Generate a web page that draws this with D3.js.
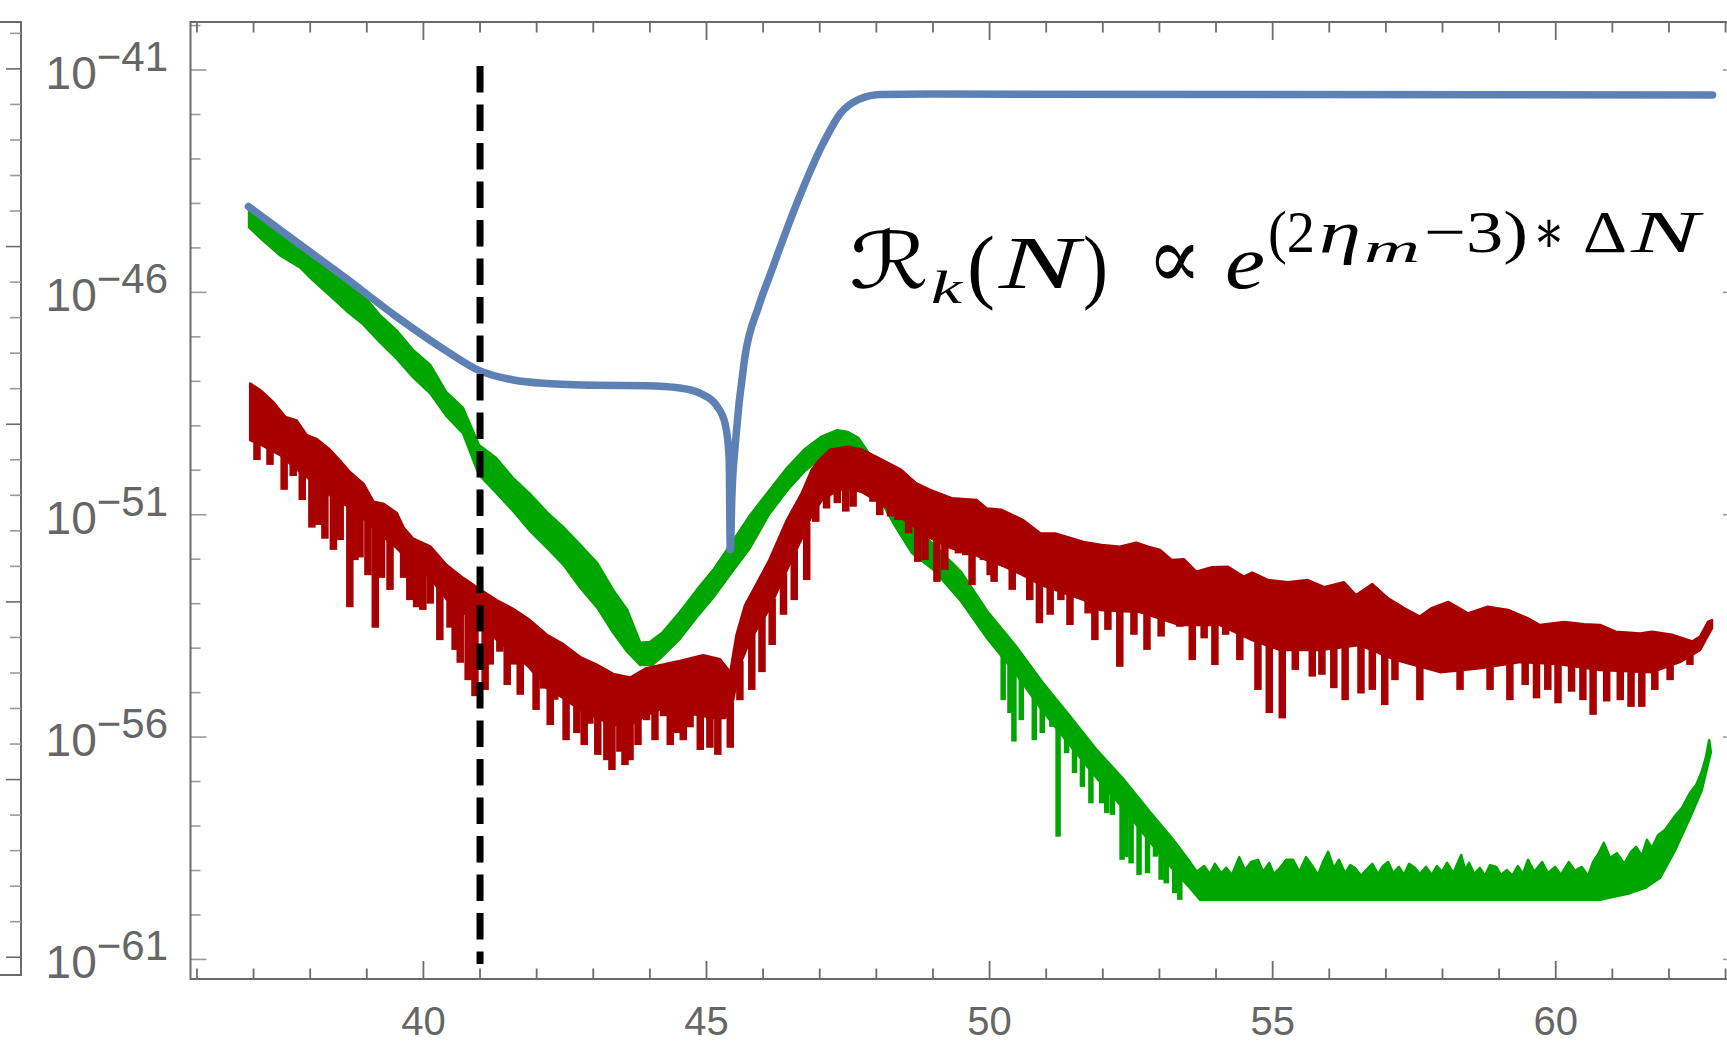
<!DOCTYPE html>
<html>
<head>
<meta charset="utf-8">
<script src="https://cdn.jsdelivr.net/npm/d3@7"></script>
<style>
  body { margin: 0; background: #ffffff; }
  svg { display: block; }
</style>
</head>
<body>
<script>
// ---- data (x = N, y = log10 of the value) ----
var x_major_ticks = [40, 45, 50, 55, 60];
var x_minor_ticks = d3.range(36, 64);
var y_major_ticks = [-41, -46, -51, -56, -61];
var y_minor_ticks = d3.range(-61, -39);
var neighbour_ticks = d3.range(0, 27);   // sliver of the panel on the left

var dashed_N = 41;
var dashed_span = [-61.1, -40.91];

var blue_curve = [[36.91,-44.07],[37.76,-44.87],[38.65,-45.70],[39.53,-46.55],[40.41,-47.32],[40.99,-47.76],
  [41.59,-47.97],[42.18,-48.05],[43.06,-48.09],[43.94,-48.10],[44.53,-48.15],[44.94,-48.30],[45.18,-48.55],
  [45.33,-48.96],[45.40,-49.71],[45.42,-51.79],[45.45,-50.52],[45.51,-49.39],[45.67,-47.52],[45.92,-46.32],
  [46.11,-45.65],[46.62,-43.92],[47.06,-42.65],[47.37,-41.97],[47.69,-41.66],[48.07,-41.55],[48.95,-41.54],[62.77,-41.56]];

var green_upper = [[36.92,-44.06],[37.15,-44.24],[37.47,-44.58],[37.82,-44.89],[38.05,-45.16],[38.35,-45.41],
  [38.63,-45.81],[38.92,-46.04],[39.23,-46.51],[39.52,-46.85],[39.82,-47.30],[40.12,-47.63],[40.40,-48.24],
  [40.70,-48.60],[40.98,-49.43],[41.28,-49.72],[41.58,-50.17],[41.88,-50.53],[42.18,-50.94],[42.47,-51.28],
  [42.77,-51.68],[43.07,-52.09],[43.35,-52.69],[43.60,-53.14],[43.83,-53.88],[44.00,-53.86],[44.23,-53.64],
  [44.53,-53.19],[44.83,-52.69],[45.12,-52.24],[45.42,-51.68],[45.77,-51.01],[46.10,-50.47],[46.42,-49.95],
  [46.74,-49.52],[47.02,-49.25],[47.31,-49.10],[47.50,-49.14],[47.68,-49.27],[47.89,-49.66],[48.06,-50.11],
  [48.33,-50.62],[48.63,-51.23],[49.02,-51.68],[49.50,-52.29],[49.97,-53.19],[50.45,-53.93],[50.93,-54.76],
  [51.40,-55.50],[51.88,-56.27],[52.36,-56.94],[52.83,-57.68],[53.22,-58.27],[53.51,-58.76],
  [53.66,-59.03],[53.79,-58.90],[53.89,-59.08],[53.98,-58.85],[54.09,-59.06],[54.18,-58.94],[54.28,-59.10],
  [54.41,-58.70],[54.51,-58.99],[54.62,-58.81],[54.74,-58.76],[54.83,-59.03],[54.94,-58.83],[55.02,-59.08],
  [55.13,-58.94],[55.24,-58.76],[55.36,-58.76],[55.47,-59.03],[55.59,-58.70],[55.70,-58.90],[55.80,-59.10],
  [55.89,-58.81],[55.98,-58.58],[56.08,-58.94],[56.17,-58.76],[56.28,-59.06],[56.37,-58.88],[56.45,-58.94],
  [56.56,-59.12],[56.65,-58.99],[56.76,-58.85],[56.86,-59.08],[56.95,-58.90],[57.04,-58.81],[57.13,-59.06],
  [57.23,-58.92],[57.32,-59.10],[57.41,-58.85],[57.51,-58.94],[57.60,-59.08],[57.71,-58.92],[57.81,-59.10],
  [57.90,-58.90],[57.99,-59.03],[58.08,-58.83],[58.19,-59.06],[58.33,-58.65],[58.40,-58.99],[58.47,-58.83],
  [58.56,-59.08],[58.66,-58.94],[58.75,-59.12],[58.84,-58.88],[58.95,-58.92],[59.03,-59.10],[59.14,-58.99],
  [59.23,-59.12],[59.33,-58.90],[59.42,-59.08],[59.51,-58.76],[59.62,-59.03],[59.76,-58.81],[59.86,-59.06],
  [59.99,-58.92],[60.09,-59.10],[60.23,-58.81],[60.34,-59.01],[60.46,-58.92],[60.57,-59.12],[60.66,-58.81],
  [60.76,-58.61],[60.85,-58.38],[60.96,-58.72],[61.08,-58.61],[61.21,-58.85],[61.33,-58.58],[61.42,-58.47],
  [61.52,-58.67],[61.61,-58.31],[61.70,-58.49],[61.81,-58.20],[61.93,-58.09],[62.09,-57.80],[62.23,-57.59],
  [62.37,-57.26],[62.48,-57.08],[62.57,-56.81],[62.65,-56.47],[62.71,-56.07]];

var green_lower = [[36.92,-44.54],[37.15,-44.81],[37.47,-45.17],[37.82,-45.44],[38.05,-45.73],[38.35,-46.07],
  [38.63,-46.40],[38.92,-46.70],[39.23,-47.12],[39.52,-47.48],[39.82,-47.91],[40.12,-48.27],[40.40,-48.77],
  [40.70,-49.17],[40.98,-50.10],[41.28,-50.50],[41.58,-50.91],[41.88,-51.36],[42.18,-51.74],[42.47,-52.12],
  [42.77,-52.64],[43.07,-53.09],[43.35,-53.65],[43.60,-54.08],[43.83,-54.38],[44.04,-54.38],[44.23,-54.17],
  [44.53,-53.79],[44.83,-53.30],[45.12,-52.86],[45.42,-52.34],[45.77,-51.74],[46.10,-51.00],[46.42,-50.46],
  [46.74,-50.01],[47.02,-49.72],[47.31,-49.56],[47.50,-49.65],[47.68,-49.83],[47.89,-50.23],[48.06,-50.64],
  [48.33,-51.25],[48.63,-51.86],[49.02,-52.25],[49.50,-52.95],[49.97,-53.80],[50.45,-54.55],[50.93,-55.40],
  [51.40,-56.15],[51.88,-56.90],[52.36,-57.60],[52.83,-58.35],[53.22,-58.95],[53.51,-59.35],[53.72,-59.66],
  [57.25,-59.66],[60.78,-59.66],[61.31,-59.51],[61.58,-59.39],[61.84,-59.17],[62.11,-58.54],[62.37,-57.82],
  [62.58,-57.19],[62.74,-56.34]];

var green_spikes = [[50.24,-55.17],[50.36,-55.46],[50.43,-56.10],[50.56,-55.62],[50.79,-56.07],[50.93,-55.91],
  [51.10,-55.77],[51.21,-58.24],[51.36,-56.36],[51.50,-56.81],[51.64,-57.12],[51.79,-57.49],[51.98,-57.49],
  [52.07,-57.71],[52.17,-57.75],[52.34,-58.76],[52.41,-58.70],[52.50,-58.84],[52.64,-59.10],[52.79,-59.06],
  [52.93,-58.69],[53.03,-59.21],[53.12,-59.29],[53.27,-59.51],[53.36,-59.66],[61.71,-59.28]];

var red_upper = [[36.94,-48.05],[37.14,-48.22],[37.35,-48.47],[37.56,-48.80],[37.76,-48.88],[37.94,-49.21],
  [38.12,-49.30],[38.35,-49.54],[38.53,-49.79],[38.70,-50.04],[38.94,-50.30],[39.12,-50.71],[39.29,-50.75],
  [39.53,-50.96],[39.65,-51.29],[39.82,-51.54],[40.12,-51.71],[40.41,-52.13],[40.70,-52.42],[40.99,-52.67],
  [41.29,-52.92],[41.59,-53.12],[41.88,-53.37],[42.18,-53.70],[42.47,-53.91],[42.77,-54.20],[43.06,-54.37],
  [43.35,-54.58],[43.65,-54.66],[43.94,-54.45],[44.24,-54.37],[44.53,-54.29],[44.94,-54.16],[45.24,-54.25],
  [45.42,-54.54],[45.53,-53.70],[45.68,-53.04],[46.11,-52.02],[46.42,-51.12],[46.68,-50.52],[46.86,-49.99],
  [46.99,-49.77],[47.18,-49.54],[47.50,-49.47],[47.75,-49.54],[48.00,-49.70],[48.44,-49.99],[48.70,-50.29],
  [48.95,-50.44],[49.33,-50.63],[49.77,-50.67],[49.95,-50.86],[50.21,-50.89],[50.59,-51.12],[50.90,-51.42],
  [51.16,-51.42],[51.66,-51.61],[51.98,-51.68],[52.30,-51.72],[52.59,-51.63],[52.80,-51.72],[53.01,-51.79],
  [53.22,-52.02],[53.43,-52.00],[53.65,-52.28],[53.93,-52.18],[54.21,-52.17],[54.49,-52.39],[54.64,-52.30],
  [54.92,-52.47],[55.27,-52.52],[55.62,-52.47],[55.91,-52.63],[56.26,-52.52],[56.47,-52.81],[56.76,-52.56],
  [57.04,-52.88],[57.32,-53.10],[57.60,-53.29],[57.81,-53.10],[58.10,-52.96],[58.45,-53.22],[58.80,-53.07],
  [59.16,-53.14],[59.51,-53.33],[59.72,-53.48],[60.15,-53.41],[60.50,-53.46],[60.78,-53.48],[61.06,-53.63],
  [61.49,-53.67],[61.70,-53.63],[62.05,-53.70],[62.41,-53.85],[62.55,-53.74],[62.69,-53.41],[62.76,-53.37]];

var red_lower = [[36.94,-49.32],[37.17,-49.45],[37.47,-49.66],[37.77,-49.99],[38.05,-50.26],[38.35,-50.56],
  [38.65,-50.80],[38.93,-51.07],[39.23,-51.43],[39.53,-51.75],[39.82,-52.13],[40.12,-52.42],[40.42,-52.92],
  [40.70,-53.19],[41.00,-53.48],[41.30,-53.82],[41.58,-54.09],[41.88,-54.45],[42.18,-54.90],[42.47,-55.12],
  [42.77,-55.39],[43.07,-55.57],[43.35,-55.73],[43.65,-55.73],[43.95,-55.50],[44.23,-55.35],[44.53,-55.44],
  [44.83,-55.50],[45.12,-55.57],[45.33,-55.57],[45.47,-55.17],[45.59,-54.38],[45.77,-53.82],[46.10,-53.14],
  [46.42,-52.24],[46.67,-51.57],[46.86,-51.01],[47.04,-50.67],[47.27,-50.49],[47.50,-50.40],[47.75,-50.49],
  [47.99,-50.67],[48.24,-50.89],[48.44,-51.07],[48.70,-51.30],[48.95,-51.52],[49.32,-51.75],[49.76,-51.91],
  [49.95,-52.02],[50.20,-52.13],[50.59,-52.36],[50.91,-52.58],[51.16,-52.69],[51.67,-52.92],[51.95,-53.14],
  [52.66,-53.19],[53.36,-53.48],[54.07,-53.48],[54.64,-53.82],[55.13,-54.04],[55.84,-54.04],[56.54,-53.93],
  [57.18,-54.27],[57.96,-54.54],[58.66,-54.45],[59.37,-54.31],[60.08,-54.36],[60.78,-54.49],[61.70,-54.54],
  [62.20,-54.31],[62.55,-54.04],[62.76,-53.55]];

var red_spikes = [[37.06,-49.77],[37.29,-49.88],[37.54,-50.44],[37.70,-50.13],[37.86,-50.67],[38.03,-51.29],
  [38.14,-51.23],[38.26,-51.54],[38.41,-51.79],[38.53,-51.57],[38.70,-53.08],[38.79,-52.02],[38.88,-51.96],
  [39.02,-52.36],[39.15,-53.54],[39.26,-52.42],[39.41,-52.69],[39.65,-52.42],[39.76,-52.92],[39.88,-53.08],
  [39.99,-53.14],[40.12,-53.00],[40.29,-53.82],[40.47,-53.54],[40.56,-54.04],[40.65,-54.33],[40.79,-54.72],
  [40.91,-55.08],[41.09,-54.94],[41.18,-54.37],[41.35,-54.08],[41.48,-54.83],[41.59,-54.37],[41.71,-55.05],
  [41.79,-54.33],[41.99,-55.39],[42.12,-54.91],[42.24,-55.73],[42.32,-55.16],[42.52,-56.07],[42.71,-55.91],
  [42.84,-56.18],[42.94,-55.70],[43.08,-56.40],[43.24,-56.52],[43.33,-56.74],[43.47,-56.33],[43.56,-56.63],
  [43.65,-56.52],[43.79,-56.18],[43.94,-55.62],[44.09,-56.07],[44.24,-55.53],[44.36,-56.18],[44.47,-55.91],
  [44.59,-56.07],[44.71,-55.78],[44.89,-56.29],[45.06,-56.24],[45.20,-56.40],[45.42,-56.24],[45.59,-55.17],
  [45.80,-54.94],[45.98,-54.54],[46.16,-53.93],[46.36,-53.25],[46.55,-52.92],[46.77,-52.47],[46.93,-51.16],
  [47.12,-50.86],[47.31,-50.74],[47.46,-50.93],[47.59,-50.82],[47.75,-50.48],[47.94,-50.71],[48.06,-51.01],
  [48.25,-51.04],[48.38,-51.12],[48.57,-51.42],[48.73,-52.06],[48.86,-52.02],[49.07,-52.51],[49.21,-52.24],
  [49.45,-51.87],[49.58,-51.91],[49.69,-52.58],[49.89,-52.02],[50.01,-52.36],[50.08,-52.51],[50.27,-52.17],
  [50.40,-52.69],[50.59,-52.13],[50.71,-52.92],[50.88,-53.44],[51.07,-53.25],[51.26,-52.92],[51.42,-53.48],
  [51.74,-53.22],[51.86,-53.82],[52.09,-53.59],[52.30,-54.42],[52.55,-53.70],[52.78,-54.04],[53.03,-53.74],
  [53.36,-53.52],[53.58,-54.27],[53.79,-53.78],[53.98,-54.38],[54.17,-53.70],[54.42,-54.27],[54.74,-54.94],
  [54.94,-55.46],[55.17,-55.58],[55.40,-54.49],[55.70,-54.64],[55.87,-54.60],[56.08,-54.90],[56.28,-55.17],
  [56.56,-55.02],[56.76,-54.94],[56.98,-55.28],[57.16,-54.72],[57.37,-54.12],[57.60,-55.17],[57.89,-54.42],
  [58.13,-54.53],[58.31,-54.94],[58.47,-54.49],[58.84,-54.94],[59.19,-55.17],[59.46,-54.83],[59.66,-55.13],
  [59.86,-54.94],[60.04,-55.24],[60.28,-54.98],[60.48,-55.17],[60.66,-55.50],[60.90,-55.20],[61.14,-55.17],
  [61.33,-55.32],[61.52,-55.32],[61.75,-54.94],[61.81,-54.34],[62.02,-54.72],[62.37,-54.38]];

// ---- colours / layout ----
var blue_color = "#5e81b5";
var green_color = "#00a600";
var red_color = "#a80000";
var frame_color = "#6b6b6b";
var tick_color_y = "#9a9a9a";
var label_color = "#666666";

var width = 1727, height = 1043;
var frame_left = 190.5, frame_right = 1739, frame_top = 22, frame_bottom = 979;

var svg = d3.select("body").append("svg")
    .attr("width", width)
    .attr("height", height);

var x_scale = d3.scaleLinear().domain([35.886, 63.237]).range([frame_left, frame_right]);
// log axis, data is given as exponents
var y_scale = d3.scaleLog()
    .domain([Math.pow(10, -61.44), Math.pow(10, -39.92)])
    .range([frame_bottom, frame_top]);
function y_pos(e) { return y_scale(Math.pow(10, e)); }

var line_gen = d3.line()
    .x(function (d) { return x_scale(d[0]); })
    .y(function (d) { return y_pos(d[1]); });

// ---- neighbouring panel (only its right edge is in view) ----
var nb_scale = d3.scaleLinear().domain([-0.32, 26.5]).range([frame_top, 975]);
var nb_g = svg.append("g");
nb_g.append("path")
    .attr("d", "M0," + frame_top + "H21V975H0")
    .attr("fill", "none")
    .attr("stroke", frame_color)
    .attr("stroke-width", 2);
nb_g.selectAll(".nb-tick")
    .data(neighbour_ticks)
    .enter()
    .append("line")
    .attr("class", "nb-tick")
    .attr("x1", function (d) { return d % 5 === 1 ? 6 : 10; })
    .attr("x2", 21)
    .attr("y1", function (d) { return nb_scale(d); })
    .attr("y2", function (d) { return nb_scale(d); })
    .attr("stroke", function (d) { return d % 5 === 1 ? frame_color : tick_color_y; })
    .attr("stroke-width", 1.6);

// ---- main frame + ticks ----
var axes_g = svg.append("g");

// y ticks, left side pointing in and right side (mostly off canvas)
[[frame_left, 1], [frame_right, -1]].forEach(function (side) {
    axes_g.selectAll(null)
        .data(y_minor_ticks)
        .enter()
        .append("line")
        .attr("x1", side[0])
        .attr("x2", function (d) { return side[0] + side[1] * (y_major_ticks.indexOf(d) >= 0 ? 16 : 10); })
        .attr("y1", function (d) { return y_pos(d); })
        .attr("y2", function (d) { return y_pos(d); })
        .attr("stroke", tick_color_y)
        .attr("stroke-width", 1.6);
});

// x ticks, bottom pointing up, top pointing down
[[frame_bottom, -1], [frame_top, 1]].forEach(function (side) {
    axes_g.selectAll(null)
        .data(x_minor_ticks)
        .enter()
        .append("line")
        .attr("x1", function (d) { return x_scale(d); })
        .attr("x2", function (d) { return x_scale(d); })
        .attr("y1", side[0])
        .attr("y2", function (d) { return side[0] + side[1] * (x_major_ticks.indexOf(d) >= 0 ? 18 : 10.5); })
        .attr("stroke", frame_color)
        .attr("stroke-width", 1.8);
});

axes_g.append("rect")
    .attr("x", frame_left)
    .attr("y", frame_top)
    .attr("width", frame_right - frame_left)
    .attr("height", frame_bottom - frame_top)
    .attr("fill", "none")
    .attr("stroke", frame_color)
    .attr("stroke-width", 2);

// x tick labels
axes_g.selectAll(".x-label")
    .data(x_major_ticks)
    .enter()
    .append("text")
    .attr("class", "x-label")
    .attr("x", function (d) { return x_scale(d); })
    .attr("y", 1035)
    .attr("text-anchor", "middle")
    .style("font-family", "'Liberation Sans', Arial, sans-serif")
    .style("font-size", "40px")
    .style("fill", label_color)
    .text(function (d) { return d; });

// y tick labels as 10^-n
var y_labels = axes_g.selectAll(".y-label")
    .data(y_major_ticks)
    .enter()
    .append("text")
    .attr("class", "y-label")
    .attr("x", 168)
    .attr("y", function (d) { return y_pos(d) + 19; })
    .attr("text-anchor", "end")
    .style("font-family", "'Liberation Sans', Arial, sans-serif")
    .style("fill", label_color);
y_labels.append("tspan").style("font-size", "46px").text("10");
y_labels.append("tspan")
    .attr("dy", -18)
    .style("font-size", "42px")
    .text(function (d) { return "\u2212" + Math.abs(d); });

// ---- curves ----
var plot_g = svg.append("g");

// noisy series: filled band between upper and lower edge, plus the downward spikes
function draw_noisy(upper, lower, spikes, color, spike_w) {
    var band = upper.concat(lower.slice().reverse());
    plot_g.append("path")
        .attr("d", line_gen(band) + "Z")
        .attr("fill", color)
        .attr("stroke", color)
        .attr("stroke-width", 2.5)
        .attr("stroke-linejoin", "round");

    // where the band's lower edge sits at a given N
    var lower_at = d3.scaleLinear()
        .domain(lower.map(function (d) { return d[0]; }))
        .range(lower.map(function (d) { return d[1]; }))
        .clamp(true);

    plot_g.selectAll(null)
        .data(spikes)
        .enter()
        .append("line")
        .attr("x1", function (d) { return x_scale(d[0]); })
        .attr("x2", function (d) { return x_scale(d[0]); })
        .attr("y1", function (d) { return y_pos(lower_at(d[0])) - 4; })
        .attr("y2", function (d) { return y_pos(d[1]); })
        .attr("stroke", color)
        .attr("stroke-width", spike_w)
        .attr("stroke-linecap", "butt");
}

draw_noisy(green_upper, green_lower, green_spikes, green_color, 5.5);
draw_noisy(red_upper, red_lower, red_spikes, red_color, 7.5);

var smooth_line = d3.line()
    .curve(d3.curveMonotoneX)
    .x(function (d) { return x_scale(d[0]); })
    .y(function (d) { return y_pos(d[1]); });

plot_g.append("path")
    .attr("d", smooth_line(blue_curve))
    .attr("fill", "none")
    .attr("stroke", blue_color)
    .attr("stroke-width", 7.5)
    .attr("stroke-linejoin", "round")
    .attr("stroke-linecap", "round");

// vertical dashed marker
plot_g.append("line")
    .attr("x1", x_scale(dashed_N))
    .attr("x2", x_scale(dashed_N))
    .attr("y1", y_pos(dashed_span[1]))
    .attr("y2", y_pos(dashed_span[0]))
    .attr("stroke", "#000")
    .attr("stroke-width", 7)
    .attr("stroke-dasharray", "26.5,12");

// ---- equation annotation ----
// each glyph group is stretched to the width it takes in the figure
var eq_g = svg.append("g").style("fill", "#000");
function eq_piece(str, x, w, y, size, italic, family) {
    eq_g.append("text")
        .attr("x", x)
        .attr("y", y)
        .attr("textLength", w)
        .attr("lengthAdjust", "spacingAndGlyphs")
        .style("font-family", family || "'Liberation Serif', 'DejaVu Serif', serif")
        .style("font-style", italic ? "italic" : "normal")
        .style("font-size", size + "px")
        .text(str);
}
eq_piece("\u211B", 849, 80, 288, 78, false, "'DejaVu Serif', 'DejaVu Sans', serif");
eq_piece("k", 931, 31, 303, 46, true);
eq_piece("(", 967, 28, 293, 82, false);
eq_piece("N", 999, 80, 288, 74, true);
eq_piece(")", 1083, 25, 293, 82, false);
eq_piece("\u221D", 1147, 55, 288, 88, false, "'DejaVu Serif', serif");
eq_piece("e", 1225, 40, 288, 76, true);
eq_piece("(2", 1268, 47, 252, 60, false);
eq_piece("\u03B7", 1319, 42, 252, 60, true);
eq_piece("m", 1364, 56, 262, 42, true);
eq_piece("\u22123)", 1424, 104, 252, 60, false);
eq_piece("\u2217", 1533, 32, 252, 60, false, "'DejaVu Serif', serif");
eq_piece("\u0394", 1583, 44, 252, 60, false);
eq_piece("N", 1631, 68, 252, 60, true);
</script>
</body>
</html>
